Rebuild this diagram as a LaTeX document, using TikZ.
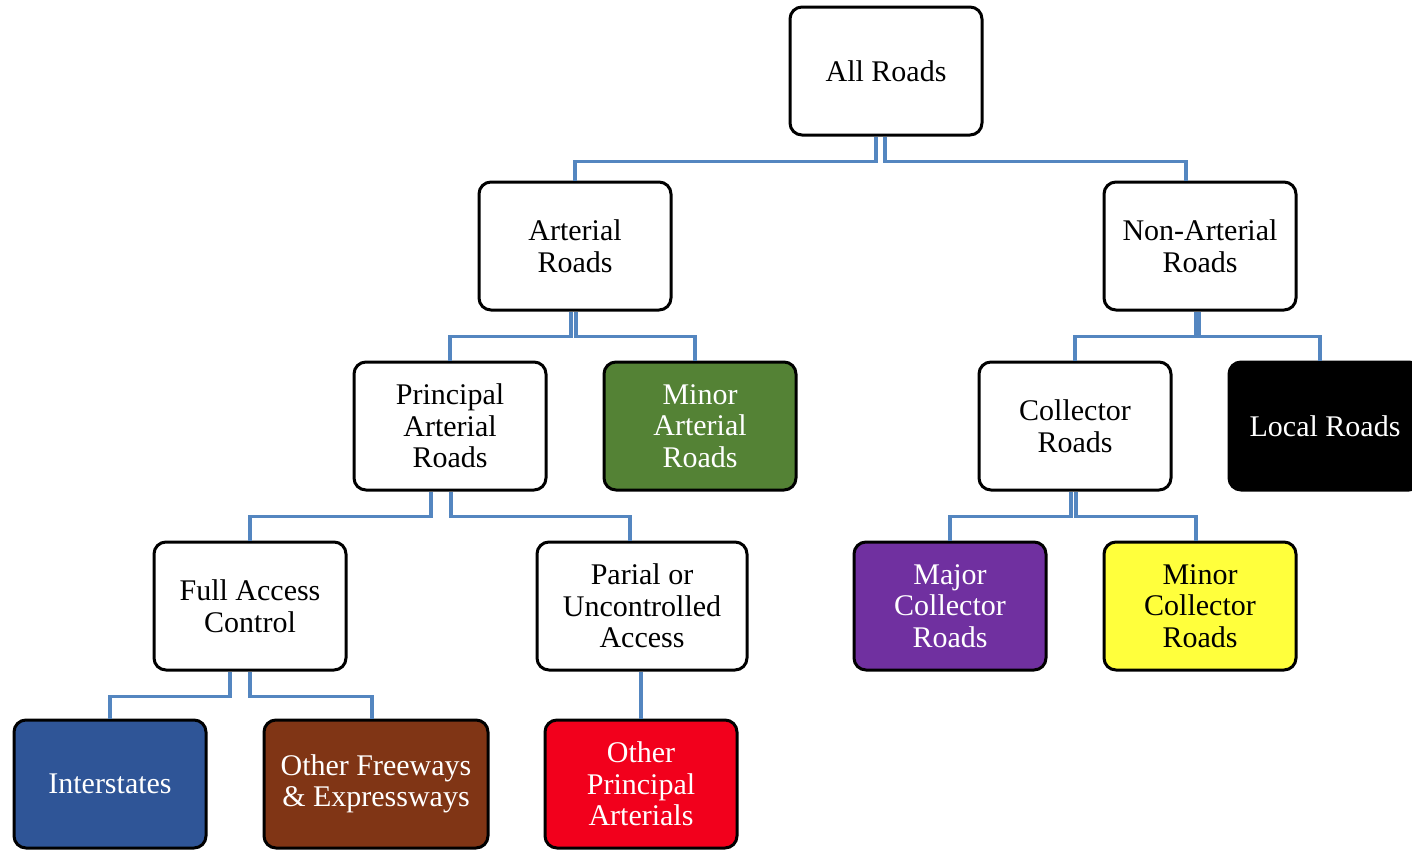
\documentclass[tikz,border=0pt]{standalone}
\usepackage{fontspec}
\setmainfont{Liberation Serif}
\usepackage{tikz}

\definecolor{linkblue}{RGB}{84,134,192}
\definecolor{minorgreen}{RGB}{84,130,53}
\definecolor{majorpurple}{RGB}{112,48,160}
\definecolor{minoryellow}{RGB}{255,255,60}
\definecolor{interblue}{RGB}{47,85,151}
\definecolor{freebrown}{RGB}{128,53,21}
\definecolor{princred}{RGB}{242,0,28}

\begin{document}
\begin{tikzpicture}[
        x=1pt, y=-1pt,
        road/.style={draw=black, line width=3pt, rounded corners=12pt, fill=white,
                     minimum width=192pt, minimum height=128pt, inner sep=0pt,
                     align=center, font=\fontsize{30}{31.5}\selectfont},
        dark/.style={road, text=white},
        link/.style={draw=linkblue, line width=3.5pt},
        elbow/.style={to path={(\tikztostart) -- ++(0,25) -| (\tikztotarget)}}
        ]
        \useasboundingbox (0,0) rectangle (1412,849);

        \node[road] (all) at (886,71) {All Roads};

        \node[road] (art) at (575,246) {Arterial\\Roads};
        \node[road] (nar) at (1200,246) {Non-Arterial\\Roads};

        \node[road] (pa) at (450,426) {Principal\\Arterial\\Roads};
        \node[dark, fill=minorgreen] (ma) at (700,426) {Minor\\Arterial\\Roads};
        \node[road] (col) at (1075,426) {Collector\\Roads};
        \node[dark, fill=black] (loc) at (1325,426) {Local Roads};

        \node[road] (fac) at (250,606) {Full Access\\Control};
        \node[road, minimum width=210pt] (puc) at (642,606) {Parial or\\Uncontrolled\\Access};
        \node[dark, fill=majorpurple] (mjc) at (950,606) {Major\\Collector\\Roads};
        \node[road, fill=minoryellow] (mnc) at (1200,606) {Minor\\Collector\\Roads};

        \node[dark, fill=interblue] (int) at (110,784) {Interstates};
        \node[dark, fill=freebrown, minimum width=224pt] (ofe) at (376,784) {Other Freeways\\\& Expressways};
        \node[dark, fill=princred] (opa) at (641,784) {Other\\Principal\\Arterials};

        \path[link]
              ([xshift=-10]all.south) edge[elbow] (art)
              ([xshift=-1]all.south) edge[elbow] ([xshift=-14]nar.north)

              ([xshift=-4]art.south) edge[elbow] (pa)
              ([xshift=1]art.south) edge[elbow] ([xshift=-5]ma.north)
              ([xshift=-4]nar.south) edge[elbow] (col)
              ([xshift=-1]nar.south) edge[elbow] ([xshift=-5]loc.north)

              ([xshift=-19]pa.south) edge[elbow] (fac)
              ([xshift=1]pa.south) edge[elbow] ([xshift=-12]puc.north)
              ([xshift=-4]col.south) edge[elbow] (mjc)
              ([xshift=1]col.south) edge[elbow] ([xshift=-4]mnc.north)

              ([xshift=-20]fac.south) edge[elbow] (int)
              (fac.south) edge[elbow] ([xshift=-4]ofe.north)
              ([xshift=-1]puc.south) edge (opa.north);
\end{tikzpicture}
\end{document}
